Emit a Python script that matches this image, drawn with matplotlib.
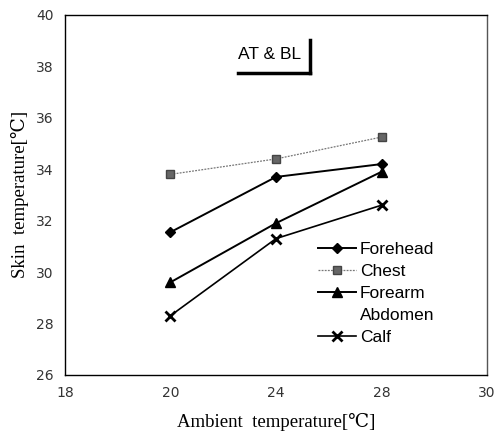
import matplotlib
matplotlib.use('Agg')
import matplotlib.pyplot as plt

# Ambient temperature tick labels (equally spaced categories)
x_labels = ['18', '20', '24', '28', '30']
ambient = ['20', '24', '28']

# Skin temperature readings
forehead = [31.55, 33.7, 34.2]
chest = [33.8, 34.4, 35.25]
forearm = [29.6, 31.9, 33.9]
calf = [28.3, 31.3, 32.6]

y_ticks = [26, 28, 30, 32, 34, 36, 38, 40]

fig = plt.figure(figsize=(4.95, 4.41), dpi=100)
ax = fig.add_axes([0.131, 0.150, 0.853, 0.816])

pos = [x_labels.index(a) for a in ambient]

ax.plot(pos, forehead, color='black', lw=1.4, marker='D', ms=5, label='Forehead')
ax.plot(pos, chest, color='#777777', lw=0.9, ls=(0, (1.5, 1)), marker='s', ms=6,
        mfc='#666666', mec='#444444', label='Chest')
ax.plot(pos, forearm, color='black', lw=1.4, marker='^', ms=7, label='Forearm')
ax.plot([], [], color='none', label='Abdomen')
ax.plot(pos, calf, color='black', lw=1.2, marker='x', ms=7, mew=2, label='Calf')

ax.set_xlim(0, 4)
ax.set_ylim(26, 40)
ax.set_xticks(range(len(x_labels)))
ax.set_xticklabels(x_labels)
ax.set_yticks(y_ticks)
ax.tick_params(length=0, labelsize=10, colors='#333333', pad=8)
for s in ax.spines.values():
    s.set_linewidth(1.0)
ax.spines['right'].set_color('#555555')

serif = ['Liberation Serif', 'DejaVu Serif']
ax.set_xlabel('Ambient  temperature[\u2103]', family=serif, fontsize=13.5, labelpad=9)
ax.set_ylabel('Skin  temperature[\u2103]', family=serif, fontsize=13.5, labelpad=5)

# "AT & BL" label with shadow
ax.text(0.41, 0.89, 'AT & BL', transform=ax.transAxes, fontsize=12.5,
        family='Liberation Sans', ha='left', va='center')
ax.plot([0.581, 0.581], [0.839, 0.93], transform=ax.transAxes, color='black', lw=2.5)
ax.plot([0.41, 0.581], [0.839, 0.839], transform=ax.transAxes, color='black', lw=2.5)

leg = ax.legend(loc='upper left', bbox_to_anchor=(0.6, 0.37), frameon=False,
                borderpad=0, borderaxespad=0,
                prop={'family': 'Liberation Sans', 'size': 12.5},
                handlelength=2.2, handletextpad=0.2, labelspacing=0.4)

fig.savefig('out.png', dpi=100)
